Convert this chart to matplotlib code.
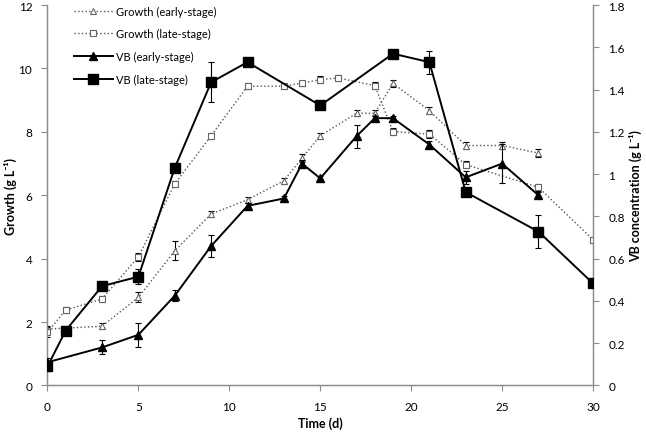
import numpy as np
import matplotlib as mpl
mpl.use('Agg')
import matplotlib.pyplot as plt
from matplotlib.lines import Line2D

mpl.rcParams.update({
    'font.family': ['Lato', 'DejaVu Sans'], 'font.size': 8.5,
    'axes.linewidth': 0.9, 'xtick.labelsize': 8.5, 'ytick.labelsize': 8.5,
    'axes.labelsize': 9,
})
AX_GREY = '#8c8c8c'

# Growth (g L-1), left axis
t_ge = [0, 3, 5, 7, 9, 11, 13, 14, 15, 17, 18, 19, 21, 23, 25, 27]
g_ge = [1.78, 1.87, 2.78, 4.25, 5.41, 5.86, 6.46, 7.17, 7.88, 8.59, 8.59, 9.53, 8.67, 7.57, 7.57, 7.33]
e_ge = [0.10, 0.10, 0.16, 0.30, 0.10, 0.10, 0.10, 0.12, 0.10, 0.10, 0.10, 0.12, 0.10, 0.10, 0.12, 0.12]

t_gl = [0, 1, 3, 5, 7, 9, 11, 13, 14, 15, 16, 18, 19, 21, 23, 27, 30]
g_gl = [1.68, 2.38, 2.73, 4.06, 6.36, 7.88, 9.44, 9.44, 9.54, 9.65, 9.70, 9.46, 8.01, 7.93, 6.97, 6.25, 4.60]
e_gl = [0.15, 0.10, 0.10, 0.12, 0.10, 0.10, 0.10, 0.08, 0.08, 0.10, 0.08, 0.10, 0.12, 0.12, 0.12, 0.12, 0.10]

# VB concentration (g L-1), right axis
t_ve = [0, 3, 5, 7, 9, 11, 13, 14, 15, 17, 18, 19, 21, 23, 25, 27]
v_ve = [0.11, 0.18, 0.24, 0.425, 0.66, 0.85, 0.885, 1.05, 0.98, 1.18, 1.265, 1.265, 1.14, 0.985, 1.05, 0.90]
e_ve = [0.02, 0.033, 0.057, 0.025, 0.05, 0.012, 0.01, 0.015, 0.012, 0.054, 0.012, 0.012, 0.015, 0.03, 0.093, 0.015]

t_vl = [0, 1, 3, 5, 7, 9, 11, 15, 19, 21, 23, 27, 30]
v_vl = [0.09, 0.26, 0.47, 0.515, 1.03, 1.435, 1.53, 1.325, 1.57, 1.53, 0.915, 0.728, 0.483]
e_vl = [0.02, 0.02, 0.01, 0.035, 0.01, 0.095, 0.015, 0.015, 0.01, 0.055, 0.02, 0.077, 0.01]

fig = plt.figure(figsize=(6.46, 4.35), dpi=100)
ax = fig.add_axes([0.0735, 0.1115, 0.8445, 0.8745])
ax2 = ax.twinx()

eb = dict(ecolor='black', elinewidth=0.8, capsize=2.5, capthick=0.8)
ax.errorbar(t_ge, g_ge, yerr=e_ge, color='#555555', ls=':', lw=1.0, marker='^', ms=4.5,
            mfc='white', mec='#666666', mew=0.8, **eb, zorder=3)
ax.errorbar(t_gl, g_gl, yerr=e_gl, color='#555555', ls=':', lw=1.0, marker='s', ms=5,
            mfc='white', mec='#666666', mew=0.8, **eb, zorder=3)
ax2.errorbar(t_ve, v_ve, yerr=e_ve, color='black', ls='-', lw=1.4, marker='^', ms=6.3,
             mfc='black', mec='black', **eb, zorder=4)
ax2.errorbar(t_vl, v_vl, yerr=e_vl, color='black', ls='-', lw=1.4, marker='s', ms=6.8,
             mfc='black', mec='black', **eb, zorder=4)

ax.set_xlim(0, 30)
ax.set_ylim(0, 12)
ax2.set_ylim(0, 1.8)
ax.set_xticks(range(0, 31, 5))
ax.set_yticks(range(0, 13, 2))
ax2.set_yticks(np.arange(0, 1.81, 0.2))
ax2.set_yticklabels(['0', '0.2', '0.4', '0.6', '0.8', '1', '1.2', '1.4', '1.6', '1.8'])

for a in (ax, ax2):
    a.spines['top'].set_visible(False)
    for s in ('left', 'right', 'bottom'):
        a.spines[s].set_color(AX_GREY)
    a.tick_params(color=AX_GREY, length=4, width=0.8, direction='out', pad=7)
ax.tick_params(axis='x', pad=7)

ax.set_xlabel('Time (d)', fontweight='bold', labelpad=3)
ax.set_ylabel('Growth (g L⁻¹)', fontweight='bold', labelpad=1)
ax2.set_ylabel('VB concentration (g L⁻¹)', fontweight='bold', labelpad=3)

handles = [
    Line2D([], [], color='#555555', ls=':', lw=1.0, marker='^', ms=4.5, mfc='white', mec='#666666', mew=0.8),
    Line2D([], [], color='#555555', ls=':', lw=1.0, marker='s', ms=5, mfc='white', mec='#666666', mew=0.8),
    Line2D([], [], color='black', lw=1.4, marker='^', ms=6.3),
    Line2D([], [], color='black', lw=1.4, marker='s', ms=6.8),
]
labels = ['Growth (early-stage)', 'Growth (late-stage)', 'VB (early-stage)', 'VB (late-stage)']
ax.legend(handles, labels, loc='upper left', bbox_to_anchor=(0.03, 1.025), frameon=False,
          handlelength=3.5, labelspacing=1.05, handletextpad=0.3, fontsize=8)

fig.savefig('out.png', dpi=100)
